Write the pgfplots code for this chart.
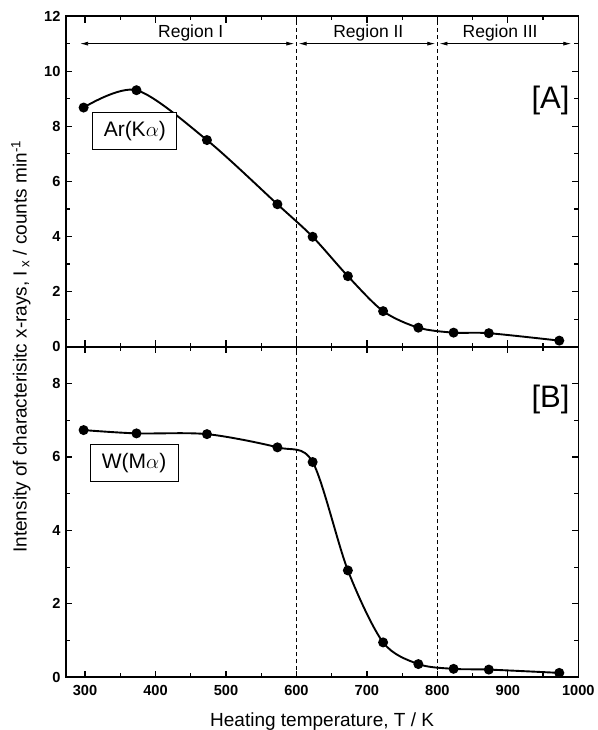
\documentclass[border=0pt]{standalone}
\usepackage{pgfplots}
\pgfplotsset{compat=1.18}
\usepackage{fontspec}
\setmainfont{Liberation Sans}
\usetikzlibrary{arrows.meta}

\pgfplotsset{
  myax/.style={
    scale only axis,
    width=512.3pt,
    height=330.6pt,
    xmin=273, xmax=1000,
    xtick={300,400,...,1000},
    minor x tick num=1,
    minor y tick num=1,
    tick align=inside,
    xtick pos=both, ytick pos=both,
    major tick length=6.5pt,
    minor tick length=4pt,
    axis line style={line width=1.6pt},
    every tick/.style={black, line width=1.2pt},
    tick label style={font=\fontsize{14.6}{16}\selectfont\bfseries},
    xticklabel style={yshift=-4.6pt},
    yticklabel style={xshift=-2pt},
    /pgf/number format/assume math mode=true,
    /pgf/number format/1000 sep={},
  },
  curve/.style={line width=1.9pt, black, smooth, tension=0.5, mark=*, mark size=4pt, mark options={solid, fill=black}},
  vdash/.style={black, line width=0.8pt, dash pattern=on 4pt off 3pt},
}

\begin{document}
\begin{tikzpicture}
\path[use as bounding box] (-66pt,-52.7pt) rectangle (531pt,677.3pt);

% bottom panel [B]
\begin{axis}[myax, at={(0pt,0pt)}, anchor=south west,
  ymin=0, ymax=9, ytick={0,2,4,6,8},
  xlabel={Heating temperature, T / K},
  xlabel style={at={(axis description cs:0.5,0)}, anchor=base, yshift=-48.7pt, font=\fontsize{19}{21}\selectfont},
]
\addplot[curve] coordinates {
(298,6.73) (373,6.64) (473,6.62) (573,6.26) (623,5.86) (673,2.91) (723,0.95) (773,0.36) (823,0.23) (873,0.21) (973,0.12)};
\addplot[vdash] coordinates {(600,0) (600,9)};
\addplot[vdash] coordinates {(800,0) (800,9)};
\node[draw, line width=1pt, minimum width=88pt, minimum height=37pt, inner sep=0pt, font=\fontsize{21}{24}\selectfont] at (axis cs:369.6,5.83) {W(M$\alpha$)};
\node[font=\fontsize{31}{34}\selectfont] at (axis cs:960.5,7.55) {[B]};
\end{axis}

% top panel [A]
\begin{axis}[myax, at={(0pt,330.6pt)}, anchor=south west,
  ymin=0, ymax=12, ytick={0,2,...,12},
  xticklabels={},
]
\addplot[curve] coordinates {
(298,8.68) (373,9.31) (473,7.50) (573,5.17) (623,3.99) (673,2.56) (723,1.29) (773,0.69) (823,0.51) (873,0.49) (973,0.22)};
\addplot[vdash] coordinates {(600,0) (600,12)};
\addplot[vdash] coordinates {(800,0) (800,12)};
\draw[line width=0.8pt, {Latex[length=8pt,width=4pt]}-{Latex[length=8pt,width=4pt]}] (axis cs:293,11) -- (axis cs:597,11);
\draw[line width=0.8pt, {Latex[length=8pt,width=4pt]}-{Latex[length=8pt,width=4pt]}] (axis cs:603,11) -- (axis cs:797,11);
\draw[line width=0.8pt, {Latex[length=8pt,width=4pt]}-{Latex[length=8pt,width=4pt]}] (axis cs:803,11) -- (axis cs:990,11);
\node[font=\fontsize{17.5}{20}\selectfont] at (axis cs:450,11.4) {Region I};
\node[font=\fontsize{17.5}{20}\selectfont] at (axis cs:702,11.4) {Region II};
\node[font=\fontsize{17.5}{20}\selectfont] at (axis cs:889,11.4) {Region III};
\node[draw, line width=1pt, fill=white, minimum width=84pt, minimum height=37pt, inner sep=0pt, font=\fontsize{21}{24}\selectfont] at (axis cs:370.6,7.84) {Ar(K$\alpha$)};
\node[font=\fontsize{31}{34}\selectfont] at (axis cs:960.5,8.95) {[A]};
\end{axis}

\node[rotate=90, font=\fontsize{19}{21}\selectfont] at (-45pt,330.6pt) {Intensity of characterisitc x-rays, I\hspace{3pt}\textsubscript{x} / counts min\textsuperscript{-1}};
\end{tikzpicture}
\end{document}
